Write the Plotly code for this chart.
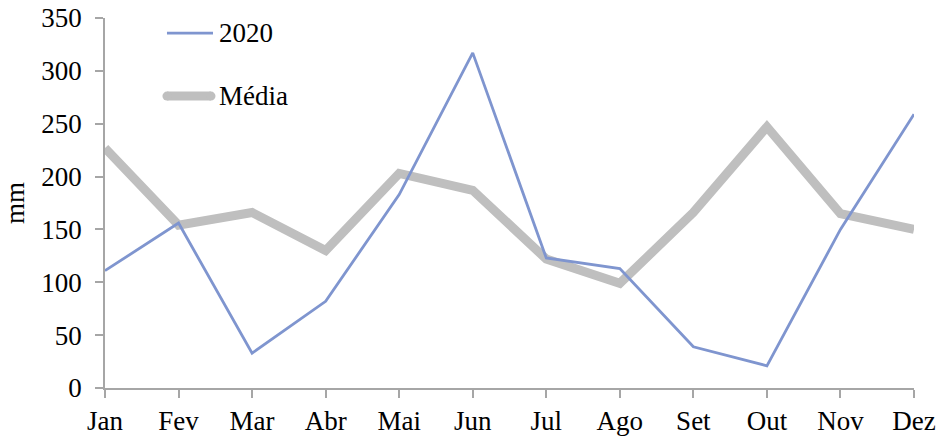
import plotly.graph_objects as go

# Monthly rainfall (mm): 2020 vs long-term average
meses = ["Jan", "Fev", "Mar", "Abr", "Mai", "Jun", "Jul", "Ago", "Set", "Out", "Nov", "Dez"]
chuva_2020 = [111, 156, 33, 82, 183, 317, 123, 113, 39, 21, 150, 259]
chuva_media = [227, 154, 166, 130, 203, 187, 122, 99, 166, 247, 165, 150]
y_ticks = [0, 50, 100, 150, 200, 250, 300, 350]

AZUL = "#7F95CF"
CINZA = "#BFBFBF"
FONTE = "Liberation Serif, Times New Roman, serif"
TAM = 27

fig = go.Figure()
fig.add_trace(go.Scatter(x=meses, y=chuva_media, mode="lines", name="Média",
                         line=dict(color=CINZA, width=9), showlegend=False))
fig.add_trace(go.Scatter(x=meses, y=chuva_2020, mode="lines", name="2020",
                         line=dict(color=AZUL, width=2.8), showlegend=False))

# legend drawn by hand inside the plot area
fig.add_shape(type="line", xref="paper", yref="paper",
              x0=0.0766, x1=0.1335, y0=0.959, y1=0.959,
              line=dict(color=AZUL, width=2.8))
fig.add_shape(type="line", xref="paper", yref="paper",
              x0=0.0766, x1=0.1310, y0=0.789, y1=0.789,
              line=dict(color=CINZA, width=9))
for xx in (0.0766, 0.1310):
    fig.add_shape(type="circle", xref="paper", yref="paper",
                  x0=xx - 0.0056, x1=xx + 0.0056, y0=0.789 - 0.0122, y1=0.789 + 0.0122,
                  line=dict(width=0), fillcolor=CINZA)
fig.add_annotation(text="2020", xref="paper", yref="paper", x=0.138, y=0.959,
                   xanchor="left", yanchor="middle", showarrow=False,
                   font=dict(size=TAM, color="black", family=FONTE))
fig.add_annotation(text="Média", xref="paper", yref="paper", x=0.138, y=0.789,
                   xanchor="left", yanchor="middle", showarrow=False,
                   font=dict(size=TAM, color="black", family=FONTE))

eixo = dict(showgrid=False, zeroline=False, automargin=False,
            showline=True, linecolor="#A6A6A6", linewidth=1.5,
            ticks="outside", ticklen=8, tickcolor="#A6A6A6", tickwidth=1.5,
            tickfont=dict(size=TAM, family=FONTE, color="black"))

fig.update_layout(
    width=942, height=439,
    margin=dict(l=105, r=28, t=18, b=51),
    paper_bgcolor="white", plot_bgcolor="white",
    font=dict(family=FONTE, size=TAM, color="black"),
    xaxis=dict(type="category", range=[0, 11], **eixo),
    yaxis=dict(range=[0, 350], tickvals=y_ticks, ticklabelstandoff=8,
               title=dict(text="mm", font=dict(size=TAM, family=FONTE, color="black"),
                          standoff=10),
               **eixo),
)

fig.write_html("out.html")
